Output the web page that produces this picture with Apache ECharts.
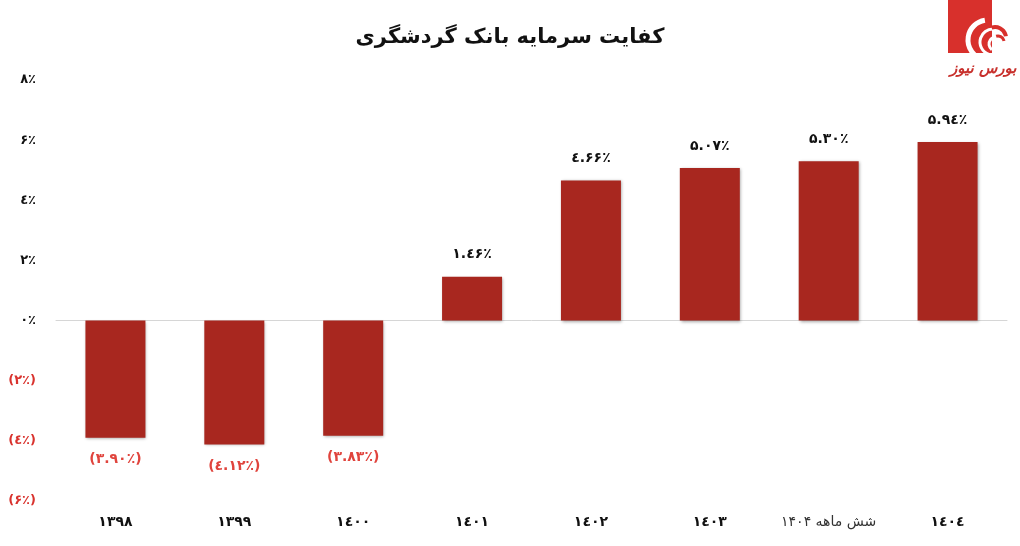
<!DOCTYPE html>
<html>
<head>
<meta charset="utf-8">
<script src="https://cdn.jsdelivr.net/npm/echarts@6/dist/echarts.min.js"></script>
<style>
html,body{margin:0;padding:0;background:#fff;}
#c{width:1020px;height:546px;}
</style>
</head>
<body>
<div id="c"></div>
<script>
const titleText = 'کفایت سرمایه بانک گردشگری';
const categories = ['۱۳۹۸', '۱۳۹۹', '۱٤۰۰', '۱٤۰۱', '۱٤۰۲', '۱٤۰۳', 'شش ماهه ۱۴۰۴', '۱٤۰٤'];
const values = [-3.90, -4.12, -3.83, 1.46, 4.66, 5.07, 5.30, 5.94];
const yMin = -6, yMax = 8, yStep = 2;
const logoText = 'بورس نیوز';

const FA = ['۰','۱','۲','۳','٤','۵','۶','۷','۸','۹'];
function fa(s){ return '\u202D' + String(s).replace(/\d/g, d => FA[+d]) + '\u202C'; }
function pct(v, dec){
  const a = Math.abs(v).toFixed(dec);
  return v < 0 ? fa('(' + a + '٪)') : fa(a + '٪');
}

const FONT = '"DejaVu Sans", sans-serif';
const chart = echarts.init(document.getElementById('c'));
chart.setOption({
  backgroundColor: '#fff',
  animation: false,
  title: {
    text: titleText, left: 'center', top: 22,
    textStyle: {fontFamily: FONT, fontSize: 21, fontWeight: 'bold', color: '#111'}
  },
  grid: {left: 56, right: 13, top: 80, bottom: 45, containLabel: false},
  xAxis: [{
    type: 'category',
    data: categories.map(c => c.indexOf(' ') >= 0 ? {value: c, textStyle: {fontWeight: 'normal', color: '#333'}} : c),
    position: 'bottom',
    axisLine: {show: false, onZero: false},
    axisTick: {show: false},
    axisLabel: {fontFamily: FONT, fontSize: 14, fontWeight: 'bold', color: '#111', margin: 14, interval: 0}
  }, {
    type: 'category',
    data: categories,
    position: 'bottom',
    axisLine: {show: true, onZero: true, lineStyle: {color: '#d6d6d6', width: 1}},
    axisTick: {show: false},
    axisLabel: {show: false}
  }],
  yAxis: {
    type: 'value', min: yMin, max: yMax, interval: yStep,
    axisLine: {show: false}, axisTick: {show: false},
    splitLine: {show: false},
    axisLabel: {
      fontFamily: FONT, fontSize: 13, fontWeight: 'bold', margin: 20,
      formatter: v => pct(v, 0),
      color: v => (v < 0 ? '#d9332e' : '#111')
    }
  },
  series: [{
    type: 'bar',
    xAxisIndex: 0,
    barWidth: 60,
    data: values.map(v => ({
      value: v,
      label: {
        position: v < 0 ? 'bottom' : 'top',
        color: v < 0 ? '#e0443d' : '#111'
      }
    })),
    itemStyle: {
      color: '#a8271f',
      shadowBlur: 3, shadowColor: 'rgba(0,0,0,0.35)', shadowOffsetX: 1, shadowOffsetY: 1
    },
    label: {
      show: true, distance: 15,
      fontFamily: FONT, fontSize: 14, fontWeight: 'bold',
      formatter: p => pct(p.value, 2)
    }
  }],
  graphic: [
    {type: 'rect', left: 948, top: 0, shape: {width: 44, height: 53}, style: {fill: '#d8302c'}},
    {type: 'arc', shape: {cx: 988, cy: 40, r: 20, startAngle: Math.PI * 0.55, endAngle: Math.PI * 1.45}, style: {stroke: '#fff', lineWidth: 5, fill: null}},
    {type: 'arc', shape: {cx: 993, cy: 42, r: 13, startAngle: Math.PI * 0.6, endAngle: Math.PI * 1.5}, style: {stroke: '#fff', lineWidth: 3, fill: null}},
    {type: 'arc', shape: {cx: 996, cy: 44, r: 7, startAngle: Math.PI * 0.7, endAngle: Math.PI * 1.5}, style: {stroke: '#fff', lineWidth: 3, fill: null}},
    {type: 'arc', shape: {cx: 995, cy: 38, r: 11, startAngle: Math.PI * 1.4, endAngle: Math.PI * 1.95}, style: {stroke: '#d8302c', lineWidth: 4, fill: null}},
    {type: 'arc', shape: {cx: 998, cy: 42, r: 6, startAngle: Math.PI * 1.4, endAngle: Math.PI * 1.95}, style: {stroke: '#d8302c', lineWidth: 3, fill: null}},
    {type: 'text', left: 950, top: 62, style: {text: logoText, fill: '#c8302c', font: 'italic bold 15px ' + FONT}}
  ]
});
</script>
</body>
</html>
